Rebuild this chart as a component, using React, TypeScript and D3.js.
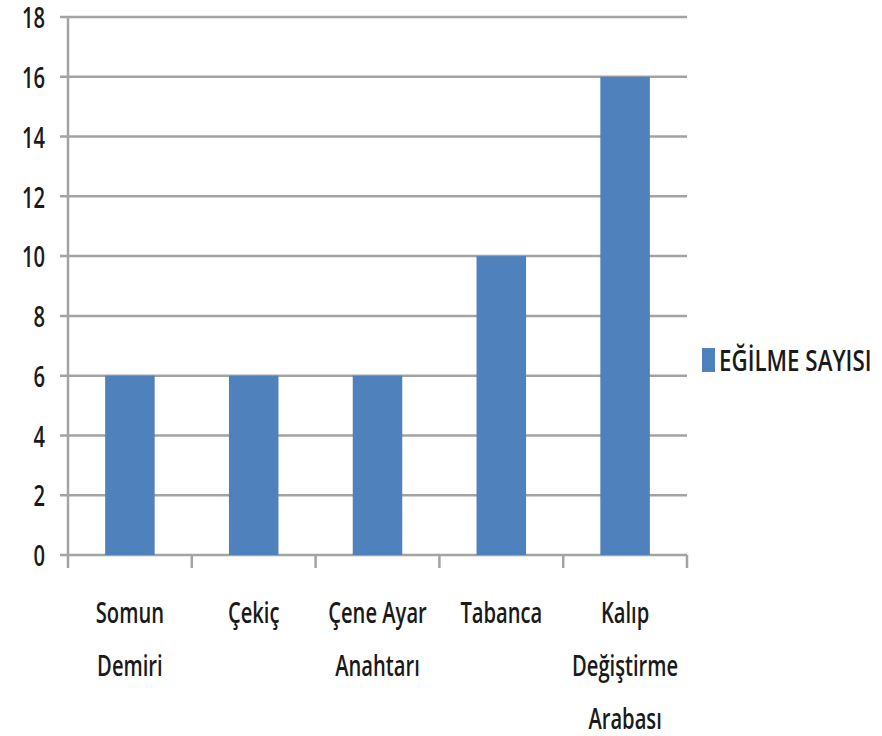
import React, { useEffect, useRef } from 'react';
import * as d3 from 'd3';

// categories (multi-line labels) and values
const categories = ['Somun Demiri', 'Çekiç', 'Çene Ayar Anahtarı', 'Tabanca', 'Kalıp Değiştirme Arabası'];
const labelLines = [['Somun', 'Demiri'], ['Çekiç'], ['Çene Ayar', 'Anahtarı'], ['Tabanca'], ['Kalıp', 'Değiştirme', 'Arabası']];
const values = [6, 6, 6, 10, 16];
const seriesName = 'EĞİLME SAYISI';
const yTicks = [0, 2, 4, 6, 8, 10, 12, 14, 16, 18];

const App: React.FC = () => {
    const ref = useRef<SVGSVGElement>(null);

    useEffect(() => {
        const svg = d3.select(ref.current);
        svg.selectAll('*').remove();

        const width = 882;
        const height = 736;
        const marginLeft = 68;
        const marginRight = 195;
        const marginTop = 17;
        const plotBottom = 555;
        const font = '"Open Sans", sans-serif';
        const gridColor = '#a3a3a3';
        const barColor = '#4f81bd';
        // the source image is squeezed sideways / stretched tall
        const sx = 0.84;
        const sy = 1.18;

        svg.attr('viewBox', [0, 0, width, height])
            .style('font-family', font);

        const x = d3.scaleBand()
            .domain(categories)
            .range([marginLeft, width - marginRight])
            .paddingInner(0)
            .paddingOuter(0);

        const y = d3.scaleLinear()
            .domain([0, 18])
            .range([plotBottom, marginTop]);

        // horizontal grid + left tick marks
        svg.append('g')
            .selectAll('line')
            .data(yTicks)
            .join('line')
            .attr('x1', marginLeft - 8)
            .attr('x2', width - marginRight)
            .attr('y1', d => y(d))
            .attr('y2', d => y(d))
            .attr('stroke', gridColor)
            .attr('stroke-width', 2.5);

        // y axis line
        svg.append('line')
            .attr('x1', marginLeft).attr('x2', marginLeft)
            .attr('y1', marginTop).attr('y2', plotBottom + 13)
            .attr('stroke', gridColor).attr('stroke-width', 2.5);

        // category tick marks
        const bounds = categories.map(c => x(c) as number).concat([width - marginRight]);
        svg.append('g')
            .selectAll('line')
            .data(bounds.slice(1))
            .join('line')
            .attr('x1', d => d).attr('x2', d => d)
            .attr('y1', plotBottom).attr('y2', plotBottom + 13)
            .attr('stroke', gridColor).attr('stroke-width', 2.5);

        // y labels
        svg.append('g')
            .selectAll('text')
            .data(yTicks)
            .join('text')
            .attr('transform', d => `translate(45,${y(d) + 1}) scale(${sx},${sy})`)
            .attr('dy', '0.36em')
            .attr('text-anchor', 'end')
            .attr('font-size', 24)
            .attr('font-weight', 600)
            .attr('fill', '#1a1a1a')
            .text(d => d);

        // bars
        const barW = x.bandwidth() * 0.4;
        svg.append('g')
            .selectAll('rect')
            .data(values)
            .join('rect')
            .attr('x', (d, i) => (x(categories[i]) as number) + (x.bandwidth() - barW) / 2)
            .attr('y', d => y(d))
            .attr('width', barW)
            .attr('height', d => plotBottom - y(d))
            .attr('fill', barColor);

        // category labels
        labelLines.forEach((lines, i) => {
            const cx = (x(categories[i]) as number) + x.bandwidth() / 2;
            lines.forEach((l, j) => {
                svg.append('text')
                    .attr('transform', `translate(${cx},${623 + j * 53}) scale(${sx},${sy})`)
                    .attr('text-anchor', 'middle')
                    .attr('font-size', 24)
                    .attr('font-weight', 600)
                    .attr('fill', '#1a1a1a')
                    .text(l);
            });
        });

        // legend
        svg.append('rect')
            .attr('x', 702).attr('y', 348)
            .attr('width', 13).attr('height', 24)
            .attr('fill', barColor);
        svg.append('text')
            .attr('transform', `translate(719,371) scale(0.93,${sy})`)
            .attr('font-size', 24)
            .attr('font-weight', 600)
            .attr('fill', '#1a1a1a')
            .text(seriesName);
    }, []);

    return <svg ref={ref} width={882} height={736} style={{ display: 'block', position: 'absolute', left: 0, top: 0 }} />;
};

export default App;
